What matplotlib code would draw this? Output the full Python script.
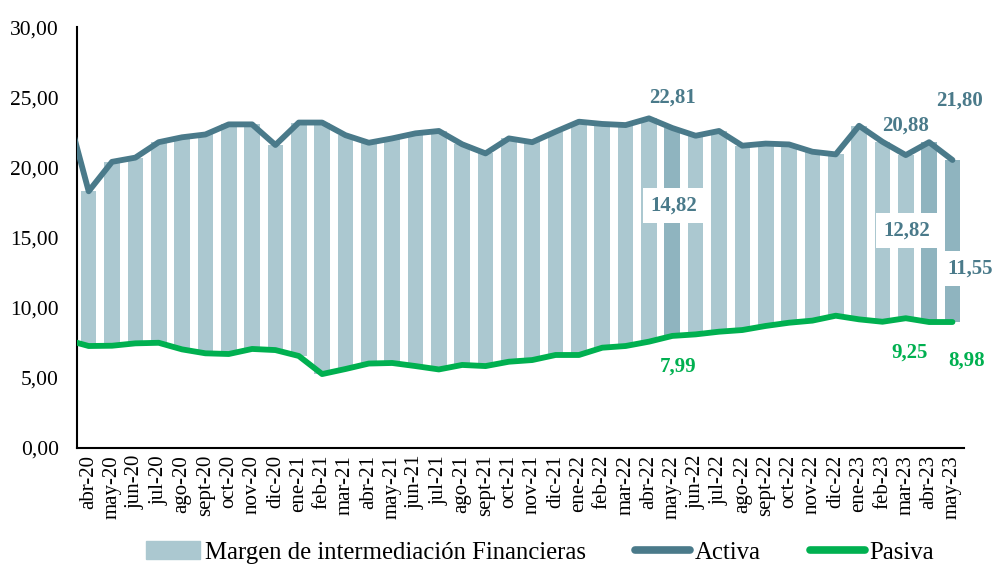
import matplotlib.pyplot as plt
import numpy as np
from matplotlib.patches import Patch
from matplotlib.lines import Line2D

meses = [
    'abr-20', 'may-20', 'jun-20', 'jul-20', 'ago-20', 'sept-20', 'oct-20', 'nov-20', 'dic-20',
    'ene-21', 'feb-21', 'mar-21', 'abr-21', 'may-21', 'jun-21', 'jul-21', 'ago-21', 'sept-21',
    'oct-21', 'nov-21', 'dic-21', 'ene-22', 'feb-22', 'mar-22', 'abr-22', 'may-22', 'jun-22',
    'jul-22', 'ago-22', 'sept-22', 'oct-22', 'nov-22', 'dic-22', 'ene-23', 'feb-23', 'mar-23',
    'abr-23', 'may-23',
]
activa = [
    18.30, 20.40, 20.70, 21.80, 22.15, 22.35, 23.07, 23.07, 21.60,
    23.20, 23.20, 22.30, 21.76, 22.07, 22.43, 22.60, 21.65, 21.00,
    22.07, 21.80, 22.55, 23.26, 23.10, 23.02, 23.50, 22.81, 22.26,
    22.60, 21.55, 21.70, 21.64, 21.12, 20.93, 22.97, 21.83, 20.88,
    21.80, 20.53,
]
pasiva = [
    7.27, 7.29, 7.46, 7.50, 7.03, 6.75, 6.70, 7.06, 6.98,
    6.56, 5.27, 5.63, 6.02, 6.06, 5.84, 5.60, 5.92, 5.84,
    6.15, 6.27, 6.63, 6.63, 7.15, 7.27, 7.58, 7.99, 8.10,
    8.29, 8.41, 8.70, 8.93, 9.08, 9.43, 9.17, 9.00, 9.25,
    8.98, 8.98,
]
# previous month (mar-20), only the tail of the lines shows at the axis
activa_prev = 24.5
pasiva_prev = 7.73

destacados = ['may-22', 'abr-23', 'may-23']

c_barra = '#abc8d0'
c_barra_dest = '#8fb4bf'
c_activa = '#4a7a8a'
c_pasiva = '#00b050'

plt.rcParams['font.family'] = ['Liberation Serif', 'DejaVu Serif']

x = np.arange(len(meses))
activa = np.array(activa)
pasiva = np.array(pasiva)
margen = activa - pasiva

fig = plt.figure(figsize=(9.96, 5.66), dpi=100)
ax = fig.add_axes([0.0773, 0.2085, 0.8907, 0.7435])

colores = [c_barra_dest if m in destacados else c_barra for m in meses]
ax.bar(x, margen, bottom=pasiva, width=0.67, color=colores, zorder=1)

x_line = np.concatenate([[-1], x])
ax.plot(x_line, np.concatenate([[activa_prev], activa]), color=c_activa, lw=4.2,
        solid_joinstyle='round', solid_capstyle='round', zorder=3)
ax.plot(x_line, np.concatenate([[pasiva_prev], pasiva]), color=c_pasiva, lw=4.2,
        solid_joinstyle='round', solid_capstyle='round', zorder=3)


def fmt(v):
    return f'{v:.2f}'.replace('.', ',')


def etiqueta(mes, valor, dx, dy, color, caja=False, y_ref=None):
    i = meses.index(mes)
    yy = valor if y_ref is None else y_ref
    kw = dict(textcoords='offset points', ha='center', va='center', fontsize=15,
              color=color, fontweight='bold', zorder=5)
    if caja:
        kw['bbox'] = dict(boxstyle='square,pad=0.35', fc='white', ec='none')
    ax.annotate(fmt(valor), (i, yy), xytext=(dx, dy), **kw)


i25 = meses.index('may-22')
i35 = meses.index('mar-23')
i36 = meses.index('abr-23')
i37 = meses.index('may-23')

etiqueta('may-22', activa[i25], 0, 22, c_activa)
etiqueta('mar-23', activa[i35], 0, 21, c_activa)
etiqueta('abr-23', activa[i36], 22, 30, c_activa)

etiqueta('may-22', margen[i25], 1, 0, c_activa, caja=True, y_ref=17.3)
etiqueta('abr-23', margen[i36], -16, 0, c_activa, caja=True, y_ref=15.5)
etiqueta('may-23', margen[i37], 13, 0, c_activa, caja=True, y_ref=12.8)

etiqueta('may-22', pasiva[i25], 4, -22, c_pasiva)
etiqueta('mar-23', pasiva[i35], 3, -25, c_pasiva)
etiqueta('may-23', pasiva[i37], 10, -28, c_pasiva)

ax.set_xlim(-0.5, len(meses) - 0.5)
ax.set_ylim(0, 30)
ax.set_yticks(np.arange(0, 31, 5))
ax.set_yticklabels([fmt(v) for v in np.arange(0, 31, 5)], fontsize=15.5)
ax.set_xticks(x)
ax.set_xticklabels(meses, rotation=90, fontsize=15)
ax.tick_params(axis='both', length=0, pad=5)
ax.tick_params(axis='y', pad=13)
for s in ['top', 'right']:
    ax.spines[s].set_visible(False)
for s in ['left', 'bottom']:
    ax.spines[s].set_linewidth(1.5)
    ax.spines[s].set_color('black')

handles = [
    Patch(color=c_barra, label='Margen de intermediación Financieras'),
    Line2D([], [], color=c_activa, lw=5.5, solid_capstyle='round', label='Activa'),
    Line2D([], [], color=c_pasiva, lw=5.5, solid_capstyle='round', label='Pasiva'),
]
fig.legend(handles=handles, loc='lower center', bbox_to_anchor=(0.542, -0.035), ncol=3,
           frameon=False, fontsize=17.8, handlelength=2.2, handletextpad=0.2,
           columnspacing=2.0)

fig.savefig('out.png', dpi=100)
